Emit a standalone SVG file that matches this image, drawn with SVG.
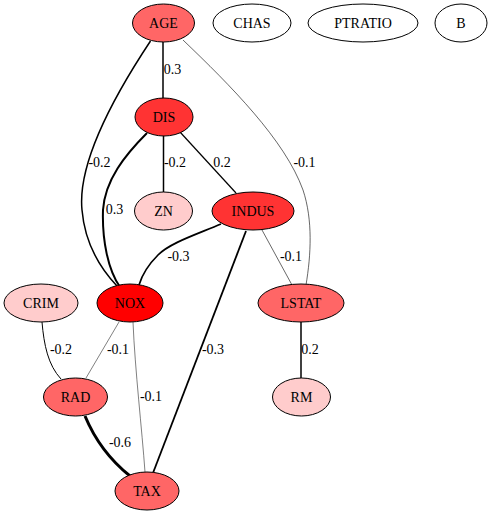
<svg xmlns="http://www.w3.org/2000/svg" width="498" height="515" viewBox="0 0 498 515" font-family="Liberation Serif, DejaVu Serif, serif" font-size="14">
<style>
text{text-anchor:middle;fill:#000}
ellipse{stroke:#000;stroke-width:1}
.e{fill:none;stroke:#000}
</style>
<rect width="498" height="515" fill="#fff"/>
<g id="edges">
<path class="e" d="M163,41 L163,99" stroke-width="1.5"/>
<text x="172.5" y="74">0.3</text>
<path class="e" d="M150.5,41 C118,90 77,160 82,210 C85,245 100,268 117,286" stroke-width="1.5"/>
<text x="99.5" y="167">-0.2</text>
<path class="e" d="M183,40 C230,85 285,140 303,190 C313,220 311,255 306,285" stroke-width="0.6"/>
<text x="304.5" y="167">-0.1</text>
<path class="e" d="M147,133 C125,155 105,180 103,210 C102,240 108,270 120,287" stroke-width="2"/>
<text x="114.5" y="214">0.3</text>
<path class="e" d="M163.5,135 L163.5,192" stroke-width="1.5"/>
<text x="175" y="167">-0.2</text>
<path class="e" d="M180,132 L236,193" stroke-width="1.2"/>
<text x="222" y="167">0.2</text>
<path class="e" d="M221,224 C195,235 170,243 158,255 C148,265 142,275 139,285" stroke-width="1.7"/>
<text x="178.5" y="261">-0.3</text>
<path class="e" d="M246,231 L153,473" stroke-width="1.8"/>
<text x="213" y="354">-0.3</text>
<path class="e" d="M262,230 L292,285" stroke-width="0.6"/>
<text x="291" y="261">-0.1</text>
<path class="e" d="M301,322 L301,378" stroke-width="1.5"/>
<text x="310" y="354">0.2</text>
<path class="e" d="M42,322 C44,345 48,365 61,379" stroke-width="1"/>
<text x="61" y="354">-0.2</text>
<path class="e" d="M119,322 L86,378" stroke-width="0.5"/>
<text x="118" y="354">-0.1</text>
<path class="e" d="M133,322 C135,370 142,430 145,472" stroke-width="0.5"/>
<text x="151" y="401">-0.1</text>
<path class="e" d="M85,416 C95,440 110,460 130,476" stroke-width="3"/>
<text x="120" y="447">-0.6</text>
</g>
<g id="AGE"><ellipse cx="163.5" cy="23" rx="31" ry="19" fill="#ff6666"/><text x="163.5" y="28">AGE</text></g>
<g id="CHAS"><ellipse cx="252" cy="23" rx="39" ry="19" fill="#fff"/><text x="252" y="28">CHAS</text></g>
<g id="PTRATIO"><ellipse cx="363" cy="23" rx="55" ry="19" fill="#fff"/><text x="363" y="28">PTRATIO</text></g>
<g id="B"><ellipse cx="461" cy="23" rx="26" ry="19" fill="#fff"/><text x="461" y="28">B</text></g>
<g id="DIS"><ellipse cx="164" cy="117" rx="29" ry="19" fill="#ff3333"/><text x="164" y="122">DIS</text></g>
<g id="ZN"><ellipse cx="163.5" cy="211" rx="29" ry="19" fill="#ffcccc"/><text x="163.5" y="216">ZN</text></g>
<g id="INDUS"><ellipse cx="253" cy="211" rx="41" ry="19" fill="#ff3333"/><text x="253" y="216">INDUS</text></g>
<g id="CRIM"><ellipse cx="41" cy="303" rx="37" ry="19" fill="#ffcccc"/><text x="41" y="308">CRIM</text></g>
<g id="NOX"><ellipse cx="130" cy="303" rx="33" ry="19" fill="#ff0000"/><text x="130" y="308">NOX</text></g>
<g id="LSTAT"><ellipse cx="301" cy="303" rx="43" ry="19" fill="#ff6666"/><text x="301" y="308">LSTAT</text></g>
<g id="RAD"><ellipse cx="75.5" cy="397" rx="32" ry="19" fill="#ff6666"/><text x="75.5" y="402">RAD</text></g>
<g id="RM"><ellipse cx="301.5" cy="397" rx="29" ry="19" fill="#ffcccc"/><text x="301.5" y="402">RM</text></g>
<g id="TAX"><ellipse cx="147" cy="491" rx="32" ry="19" fill="#ff6666"/><text x="147" y="496">TAX</text></g>
</svg>
